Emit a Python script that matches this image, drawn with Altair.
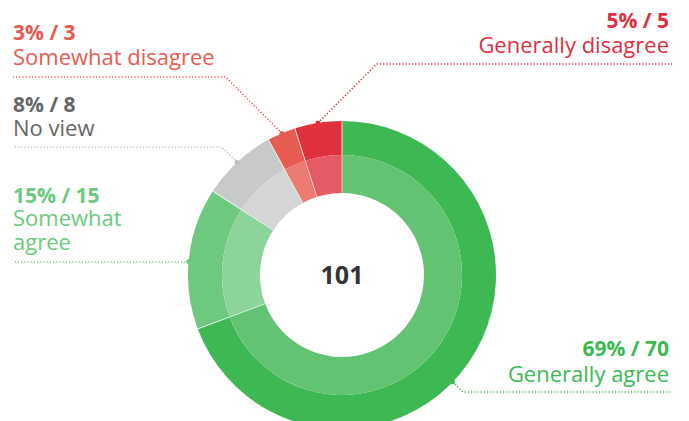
import math
import altair as alt
import pandas as pd

# ---- data ----
categories = ["Generally agree", "Somewhat agree", "No view", "Somewhat disagree", "Generally disagree"]
counts = [70, 15, 8, 3, 5]
percents = [69, 15, 8, 3, 5]
name_lines = [["Generally agree"], ["Somewhat", "agree"], ["No view"], ["Somewhat disagree"], ["Generally disagree"]]

# ---- styles ----
outer_colors = ["#3db853", "#6cc97d", "#c8c9cb", "#e85b50", "#e0303d"]
inner_colors = ["#62c472", "#8dd49a", "#d4d5d7", "#ed7b72", "#e65a65"]
text_colors = ["#3db853", "#6cc97d", "#666666", "#e85b50", "#e0303d"]
line_colors = ["#3db853", "#6cc97d", "#bdbdbf", "#e85b50", "#e0303d"]

# ---- layout (page pixels) ----
W, H = 673, 413
OFF = 8
CX, CY = 342, 275
R_OUT, R_MID, R_IN = 154, 120, 82
side = ["right", "left", "left", "left", "right"]
anchor_deg = [134, 275, 317, 337, 351]
line_y = [392, 262, 147, 77, 64]
bold_y = [356, 203, 112, 40, 28]
name_y = [381.5, 226, 136, 65, 53]
LINE_STEP = 24
LEFT_X, RIGHT_X = 13, 672
TEXT_RIGHT_X = 669
FONT = "Open Sans"

arc_df = pd.DataFrame({
    "idx": list(range(len(categories))),
    "cat": categories,
    "count": counts,
    "outer": outer_colors,
    "inner": inner_colors,
})

line_rows, dot_rows, text_rows = [], [], []
for i, cat in enumerate(categories):
    a = math.radians(anchor_deg[i])
    ax = CX + R_OUT * math.sin(a)
    ay = CY - R_OUT * math.cos(a)
    d = abs(ay - line_y[i])
    if side[i] == "left":
        ex, endx = ax - d, LEFT_X
        tx = LEFT_X
    else:
        ex, endx = ax + d, RIGHT_X
        tx = TEXT_RIGHT_X
    for k, (px, py) in enumerate([(ax, ay), (ex, line_y[i]), (endx, line_y[i])]):
        line_rows.append({"cat": cat, "k": k, "x": px - OFF, "y": py - OFF, "color": line_colors[i]})
    dot_rows.append({"cat": cat, "x": ax - OFF, "y": ay - OFF, "color": line_colors[i]})
    text_rows.append({"x": tx - OFF, "y": bold_y[i] - OFF, "text": f"{percents[i]}% / {counts[i]}",
                      "bold": True, "side": side[i], "color": text_colors[i]})
    for j, ln in enumerate(name_lines[i]):
        text_rows.append({"x": tx - OFF, "y": name_y[i] + j * LINE_STEP - OFF, "text": ln,
                          "bold": False, "side": side[i], "color": text_colors[i]})

line_df = pd.DataFrame(line_rows)
dot_df = pd.DataFrame(dot_rows)
text_df = pd.DataFrame(text_rows)
center_df = pd.DataFrame({"x": [CX - OFF], "y": [CY + 9 - OFF], "text": [str(sum(counts))]})

xs = alt.X("x:Q", scale=alt.Scale(domain=[0, W]), axis=None)
ys = alt.Y("y:Q", scale=alt.Scale(domain=[0, H], reverse=True), axis=None)

base_arc = alt.Chart(arc_df)
outer = base_arc.mark_arc(outerRadius=R_OUT, innerRadius=R_MID, padAngle=0.004).encode(
    theta=alt.Theta("count:Q", stack=True),
    order=alt.Order("idx:Q"),
    color=alt.Color("outer:N", scale=None),
    x=alt.value(CX - OFF), y=alt.value(CY - OFF),
)
inner = base_arc.mark_arc(outerRadius=R_MID, innerRadius=R_IN, padAngle=0.004).encode(
    theta=alt.Theta("count:Q", stack=True),
    order=alt.Order("idx:Q"),
    color=alt.Color("inner:N", scale=None),
    x=alt.value(CX - OFF), y=alt.value(CY - OFF),
)

lines = alt.Chart(line_df).mark_line(strokeDash=[1.2, 2], strokeWidth=1.6).encode(
    x=xs, y=ys, detail="cat:N", order="k:Q", color=alt.Color("color:N", scale=None)
)
dots = alt.Chart(dot_df).mark_circle(size=22, opacity=1).encode(
    x=xs, y=ys, color=alt.Color("color:N", scale=None)
)

texts = []
for sd, al in [("left", "left"), ("right", "right")]:
    for b in [True, False]:
        texts.append(
            alt.Chart(text_df).transform_filter(
                (alt.datum.side == sd) & (alt.datum.bold == b)
            ).mark_text(
                align=al, baseline="alphabetic", font=FONT,
                fontSize=21 if b else 22, fontWeight="bold" if b else "normal",
            ).encode(x=xs, y=ys, text="text:N", color=alt.Color("color:N", scale=None))
        )

center = alt.Chart(center_df).mark_text(
    align="center", baseline="alphabetic", font=FONT, fontSize=25, fontWeight="bold", color="#333333"
).encode(x=xs, y=ys, text="text:N")

chart = alt.layer(outer, inner, lines, dots, *texts, center).properties(
    width=W, height=H, padding=0, autosize=alt.AutoSizeParams(type="none")
).configure_view(stroke=None)

chart.save("out.html", embed_options={"renderer": "svg", "actions": False})
